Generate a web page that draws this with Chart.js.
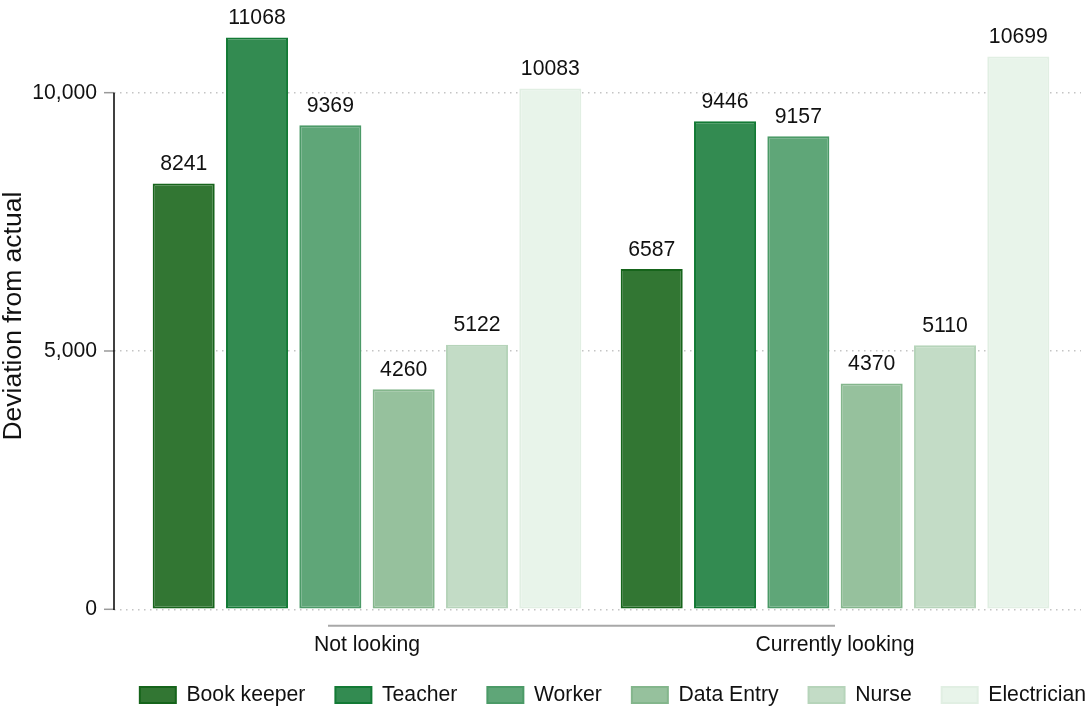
<!DOCTYPE html>
<html>
<head>
<meta charset="utf-8">
<script src="https://cdn.jsdelivr.net/npm/chart.js@4.4.1/dist/chart.umd.min.js"></script>
<style>
  html, body { margin: 0; padding: 0; background: #ffffff; }
  #wrap { width: 1086px; height: 707px; }
</style>
</head>
<body>
<div id="wrap"><canvas id="chart" width="1086" height="707"></canvas></div>
<script>
// Job-search status groups and the occupations compared within each
const groups = ['Not looking', 'Currently looking'];
const occupations = ['Book keeper', 'Teacher', 'Worker', 'Data Entry', 'Nurse', 'Electrician'];

// Deviation from actual, one value per group
const bookKeeper  = [8241, 6587];
const teacher     = [11068, 9446];
const worker      = [9369, 9157];
const dataEntry   = [4260, 4370];
const nurse       = [5122, 5110];
const electrician = [10083, 10699];

// Y axis ticks and title
const yTicks = [0, 5000, 10000];
const yTitle = 'Deviation from actual';

const seriesValues = [bookKeeper, teacher, worker, dataEntry, nurse, electrician];
const fillColors   = ['#327633', '#338b51', '#5fa678', '#96c19d', '#c3dcc6', '#e8f4ea'];
const borderColors = ['#16641b', '#137a35', '#4b9a67', '#84b68c', '#b6d4ba', '#e1efe3'];

const FONT = '"Liberation Sans", Arial, Helvetica, sans-serif';
const FS = 21.2;
const LEGEND_GAP = 30;

const datasets = occupations.map((name, k) => ({
  label: name,
  data: seriesValues[k].map((v, i) => ({ x: i, y: v })),
  backgroundColor: fillColors[k],
  borderColor: borderColors[k],
  borderWidth: 2,
  borderSkipped: false,
  categoryPercentage: 0.94,
  barPercentage: 0.846
}));

// Value labels above every bar
const valueLabels = {
  id: 'valueLabels',
  afterDatasetsDraw(chart) {
    const ctx = chart.ctx;
    ctx.save();
    ctx.font = FS + 'px ' + FONT;
    ctx.fillStyle = '#111111';
    ctx.textAlign = 'center';
    ctx.textBaseline = 'alphabetic';
    chart.data.datasets.forEach((ds, di) => {
      chart.getDatasetMeta(di).data.forEach((bar, i) => {
        ctx.fillText(String(ds.data[i].y), bar.x, bar.y - 13.5);
      });
    });
    ctx.restore();
  }
};

// Y axis line over the tick range, grey tick marks, axis title,
// and the rule between the group labels
const axisDecor = {
  id: 'axisDecor',
  afterDraw(chart) {
    const ctx = chart.ctx;
    const ys = chart.scales.y, xs = chart.scales.x;
    const area = chart.chartArea;
    const left = area.left;
    ctx.save();
    ctx.lineCap = 'butt';
    ctx.strokeStyle = '#9a9a9a';
    ctx.lineWidth = 1.5;
    yTicks.forEach(t => {
      const py = ys.getPixelForValue(t);
      ctx.beginPath();
      ctx.moveTo(left - 10, py);
      ctx.lineTo(left, py);
      ctx.stroke();
    });
    ctx.strokeStyle = '#000000';
    ctx.lineWidth = 1.5;
    ctx.beginPath();
    ctx.moveTo(left, ys.getPixelForValue(yTicks[0]) + 0.75);
    ctx.lineTo(left, ys.getPixelForValue(yTicks[yTicks.length - 1]));
    ctx.stroke();

    ctx.strokeStyle = '#a8a8a8';
    ctx.lineWidth = 2;
    const ry = area.bottom + 16.5;
    ctx.beginPath();
    ctx.moveTo(xs.getPixelForValue(-1 / 12), ry);
    ctx.lineTo(xs.getPixelForValue(1), ry);
    ctx.stroke();

    // rotated axis title, centred a little below the middle of the plot
    ctx.translate(14, (area.top + area.bottom) / 2 + 11.5);
    ctx.rotate(-Math.PI / 2);
    ctx.font = '26.5px ' + FONT;
    ctx.fillStyle = '#111111';
    ctx.textAlign = 'center';
    ctx.textBaseline = 'middle';
    ctx.fillText(yTitle, 0, 0);
    ctx.restore();
  }
};

// Push the legend row flush to the right edge and place it near the bottom
const legendPlacement = {
  id: 'legendPlacement',
  afterLayout(chart) {
    const lg = chart.legend;
    if (!lg) return;
    lg.left += LEGEND_GAP + 5;
    lg.right += LEGEND_GAP + 5;
    lg.top -= 10.7 + (LEGEND_GAP - 28);
  }
};

new Chart(document.getElementById('chart'), {
  type: 'bar',
  data: { datasets },
  plugins: [valueLabels, axisDecor, legendPlacement],
  options: {
    responsive: false,
    animation: false,
    devicePixelRatio: 1,
    layout: { padding: { top: 0, right: 5, bottom: 0, left: 0 } },
    plugins: {
      title: { display: false },
      tooltip: { enabled: false },
      legend: {
        position: 'bottom',
        align: 'end',
        maxHeight: 40,
        labels: {
          boxWidth: 36,
          boxHeight: 16,
          padding: LEGEND_GAP,
          color: '#111111',
          font: { family: FONT, size: FS }
        }
      }
    },
    scales: {
      x: {
        type: 'linear',
        offset: false,
        min: -0.5406,
        max: 1.5256,
        grid: { display: false },
        border: { display: false },
        afterBuildTicks(s) { s.ticks = groups.map((g, i) => ({ value: i })); },
        afterFit(s) { s.height = 57.7; s.paddingLeft = 0; s.paddingRight = 0; },
        ticks: {
          autoSkip: false,
          maxRotation: 0,
          padding: 15,
          color: '#111111',
          font: { family: FONT, size: FS },
          callback: (v) => groups[v]
        }
      },
      y: {
        min: 0,
        max: 11794,
        afterBuildTicks(s) { s.ticks = yTicks.map(v => ({ value: v })); },
        afterFit(s) { s.width = 114; s.paddingTop = 0; s.paddingBottom = 0; },
        border: { display: false, dash: [1.5, 4.5] },
        grid: {
          color: '#c4c4c4',
          lineWidth: 1.5,
          drawTicks: false
        },
        ticks: {
          padding: 17,
          color: '#111111',
          font: { family: FONT, size: FS },
          callback: (v) => v.toLocaleString('en-US')
        },
        title: { display: false }
      }
    }
  }
});
</script>
</body>
</html>
